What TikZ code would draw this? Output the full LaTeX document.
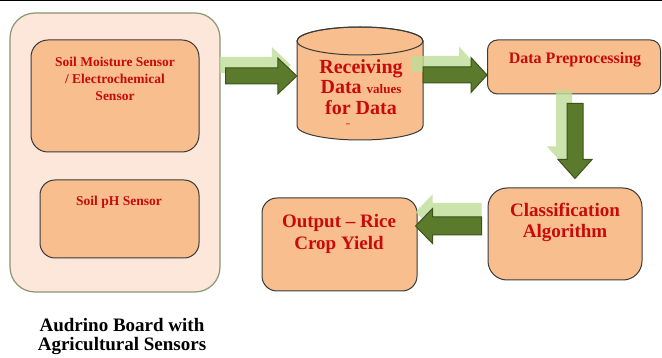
\documentclass[tikz,border=0pt]{standalone}
\usepackage{fontspec}
\setmainfont{Liberation Serif}[BoldFont={Liberation Serif Bold}]
\usetikzlibrary{calc}
\definecolor{peach}{HTML}{F8BE8E}
\definecolor{outerfill}{HTML}{FCE7DA}
\definecolor{outerline}{HTML}{8A9670}
\definecolor{boxline}{HTML}{3A3A3A}
\definecolor{txtred}{HTML}{C80A0A}
\definecolor{dkgreen}{HTML}{5C7A2C}
\definecolor{dkgreenline}{HTML}{3C5418}
\definecolor{ltgreen}{HTML}{BEDC98}
% #1 from, #2 to, #3 half shaft, #4 half head, #5 head length, #6 shadow shift
\newcommand\blkarrowpath[4]{%
  ($(#1)!#3pt!90:(#2)$) -- ($(hb)!#3pt!90:(#2)$) -- ($(hb)!#4pt!90:(#2)$) -- (#2)
  -- ($(hb)!#4pt!-90:(#2)$) -- ($(hb)!#3pt!-90:(#2)$) -- ($(#1)!#3pt!-90:(#2)$) -- cycle}
\newcommand\blkarrow[6]{%
  \coordinate (hb) at ($(#2)!#5pt!(#1)$);
  \fill[ltgreen, opacity=.8, transform canvas={shift={#6}}] \blkarrowpath{#1}{#2}{#3}{#4};
  \filldraw[fill=dkgreen, draw=dkgreenline, line width=1pt] \blkarrowpath{#1}{#2}{#3}{#4};
}
\begin{document}
\begin{tikzpicture}[x=1pt,y=-1pt,
  box/.style={draw=boxline, fill=peach, line width=1pt, inner sep=0pt},
  rtxt/.style={text=txtred, align=center, inner sep=0pt},
]
\useasboundingbox (0,0) rectangle (662,358);
\draw[line width=1pt] (0,0.5) -- (662,0.5);

% left board
\node[draw=outerline, fill=outerfill, line width=1.2pt, rounded corners=25pt,
      minimum width=210pt, minimum height=279pt, inner sep=0pt] (outer) at (115,152.5) {};
\node[box, rounded corners=17pt, minimum width=168pt, minimum height=112pt] (sm) at (115,96) {};
\node[box, rounded corners=15pt, minimum width=159pt, minimum height=78pt] (ph) at (119.5,219) {};
\node[rtxt, font=\fontsize{13.5}{17}\selectfont\bfseries] (smt) at (115,79)
  {Soil Moisture Sensor\\ / Electrochemical\\ Sensor};
\node[rtxt, font=\fontsize{13.5}{17}\selectfont\bfseries] (pht) at (119,202) {Soil pH Sensor};

% cylinder
\node[minimum width=126pt, minimum height=113pt, inner sep=0pt] (cyl) at (360,83.5) {};
\path[fill=peach, draw=boxline, line width=1pt] (297,41) -- (297,126)
  arc[start angle=180, end angle=360, x radius=63pt, y radius=14pt] -- (423,41)
  arc[start angle=0, end angle=180, x radius=63pt, y radius=14pt] -- cycle;
\draw[boxline, line width=1pt] (360,41) ellipse[x radius=63pt, y radius=14pt];
\node[rtxt, font=\fontsize{20}{20.5}\selectfont\bfseries] (cylt) at (361,87)
  {Receiving\\ Data {\fontsize{13}{14}\selectfont values}\\ for Data};
\node[rtxt, font=\fontsize{9}{9}\selectfont\bfseries, anchor=base] (cyldash) at (348,126.5) {\scalebox{1.6}[1]{-}};

% right boxes
\node[box, rounded corners=10pt, minimum width=173pt, minimum height=54pt] (dp) at (574,67) {};
\node[rtxt, font=\fontsize{16}{18}\selectfont\bfseries] (dpt) at (575,60) {Data Preprocessing};
\node[box, rounded corners=19pt, minimum width=154pt, minimum height=92pt] (cl) at (565,234) {};
\node[rtxt, font=\fontsize{19}{21}\selectfont\bfseries] (clt) at (565,222.5) {Classification\\ Algorithm};
\node[box, rounded corners=15pt, minimum width=155pt, minimum height=93pt] (out) at (339.5,244.5) {};
\node[rtxt, font=\fontsize{19}{22}\selectfont\bfseries] (outt) at (339,234) {Output – Rice\\ Crop Yield};

% caption
\node[align=center, inner sep=0pt, font=\fontsize{19}{19.5}\selectfont\bfseries] (cap) at (122,336.5)
  {Audrino Board with\\ Agricultural Sensors};

% arrows
\coordinate (a1s) at ([xshift=5pt]outer.east |- 0,76);
\coordinate (a1e) at (cyl.west |- 0,76);
\coordinate (a2s) at (cyl.east |- 0,75);
\coordinate (a2e) at (dp.west |- 0,75);
\coordinate (a3s) at ([yshift=-9pt]dp.south -| 575,0);
\coordinate (a3e) at ([yshift=9pt]cl.north -| a3s);
\coordinate (a4s) at ([xshift=-6pt]cl.west |- 0,226);
\coordinate (a4e) at ([xshift=-2pt]out.east |- 0,226);
\blkarrow{a1s}{a1e}{8}{18}{19}{(-6,-11)}
\blkarrow{a2s}{a2e}{8}{17.5}{16}{(-12,-11)}
\blkarrow{a3s}{a3e}{8}{17}{19}{(-11,-13)}
\blkarrow{a4s}{a4e}{9}{17.5}{17}{(0,-14)}
\end{tikzpicture}
\end{document}
